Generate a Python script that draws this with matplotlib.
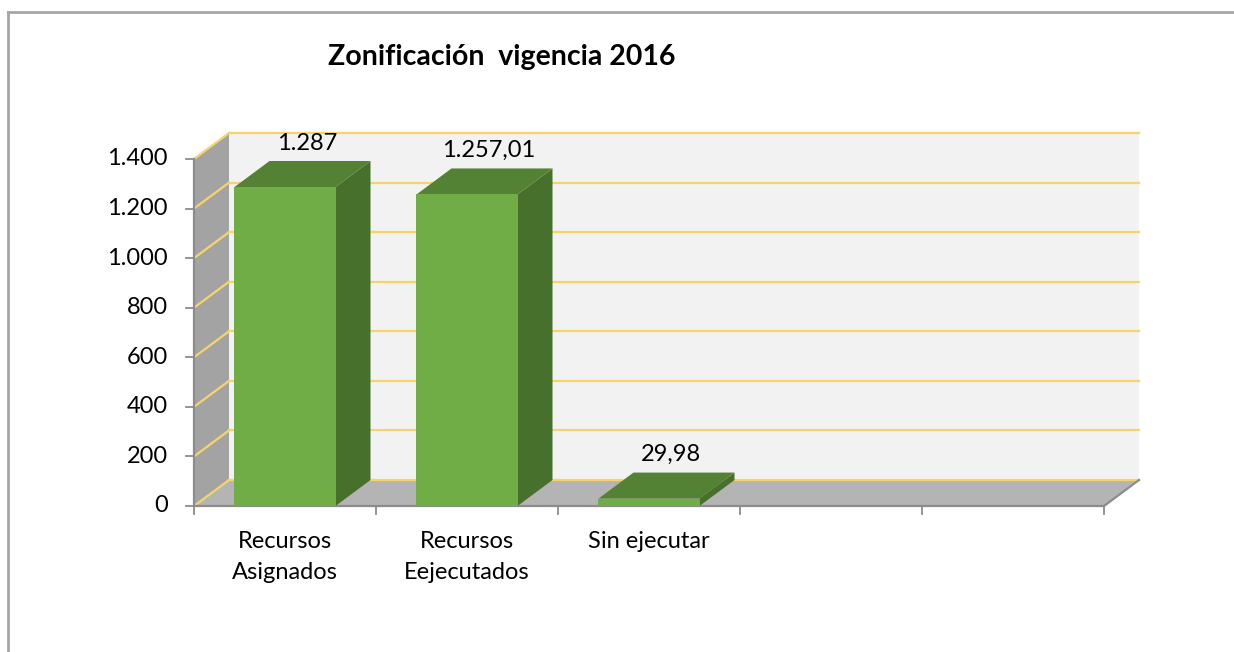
import matplotlib
matplotlib.use("Agg")
import matplotlib.pyplot as plt
from matplotlib.patches import Polygon
from matplotlib.transforms import IdentityTransform
from matplotlib.lines import Line2D

# ---- data ----
categories = ["Recursos\nAsignados", "Recursos\nEejecutados", "Sin ejecutar", "", ""]
values = [1287, 1257.01, 29.98]
value_labels = ["1.287", "1.257,01", "29,98"]
yticks = [0, 200, 400, 600, 800, 1000, 1200, 1400]
ytick_labels = ["0", "200", "400", "600", "800", "1.000", "1.200", "1.400"]
title = "Zonificación  vigencia 2016"

# ---- style ----
W, H, DPI = 1234, 652, 100
FONT = ["Lato", "DejaVu Sans"]
DX, DY = 35, 26            # depth offset in pixels (right, up)
BAR_HALF = 0.2775
C_FRONT, C_TOP, C_SIDE = "#70AD47", "#548235", "#46702B"
C_WALL, C_SIDEWALL, C_FLOOR = "#F2F2F2", "#A3A3A3", "#B4B4B4"
C_GRID, C_AXIS = "#F7D46A", "#8C8C8C"
FS = 17

fig = plt.figure(figsize=(W / DPI, H / DPI), dpi=DPI)
fig.patch.set_facecolor("white")
ax = fig.add_axes([194 / W, (H - 506) / H, (1104 - 194) / W, (506 - 159) / H])
ax.set_xlim(-0.5, len(categories) - 0.5)
ax.set_ylim(0, 1400)
ax.axis("off")

T = ax.transData
ID = IdentityTransform()


def front(x, y):
    px, py = T.transform((x, y))
    return (px, py)


def back(x, y):
    px, py = T.transform((x, y))
    return (px + DX, py + DY)


def poly(pts, color, z, lw=0, ec="none"):
    p = Polygon(pts, closed=True, facecolor=color, edgecolor=ec, lw=lw,
                transform=ID, zorder=z)
    fig.add_artist(p)


def line(p0, p1, color, z, lw=1.5):
    l = Line2D([p0[0], p1[0]], [p0[1], p1[1]], color=color, lw=lw,
               transform=ID, zorder=z)
    fig.add_artist(l)


x0, x1 = -0.5, len(categories) - 0.5
ymax = yticks[-1]

# back wall
poly([back(x0, 0), back(x1, 0), back(x1, ymax), back(x0, ymax)], C_WALL, 1)
# left side wall
poly([front(x0, 0), back(x0, 0), back(x0, ymax), front(x0, ymax)], C_SIDEWALL, 1)
# floor
poly([front(x0, 0), front(x1, 0), back(x1, 0), back(x0, 0)], C_FLOOR, 1)

# gridlines
for v in yticks:
    line(back(x0, v), back(x1, v), C_GRID, 2, lw=1.6)
    line(front(x0, v), back(x0, v), C_GRID, 2, lw=1.6)

# axes lines and ticks
line(front(x0, 0), front(x1, 0), C_AXIS, 3, lw=1.6)
line(front(x1, 0), back(x1, 0), C_AXIS, 3, lw=1.6)
line(front(x0, 0), front(x0, ymax), C_AXIS, 3, lw=1.6)
for v, lab in zip(yticks, ytick_labels):
    px, py = front(x0, v)
    line((px - 8, py), (px, py), C_AXIS, 3, lw=1.3)
    fig.text((px - 26) / W, py / H, lab, ha="right", va="center",
             fontsize=FS, family=FONT, color="black")
for i in range(len(categories) + 1):
    px, py = front(x0 + i, 0)
    line((px, py), (px, py - 8), C_AXIS, 3, lw=1.3)
for i, lab in enumerate(categories):
    if lab:
        px, py = front(i, 0)
        fig.text(px / W, (py - 25) / H, lab, ha="center", va="top",
                 fontsize=FS, family=FONT, color="black", linespacing=1.58)

# bars
for i, (v, lab) in enumerate(zip(values, value_labels)):
    l, r = i - BAR_HALF, i + BAR_HALF
    # right side face
    poly([front(r, 0), back(r, 0), back(r, v), front(r, v)], C_SIDE, 5)
    # top face
    poly([front(l, v), front(r, v), back(r, v), back(l, v)], C_TOP, 5)
    # front face
    poly([front(l, 0), front(r, 0), front(r, v), front(l, v)], C_FRONT, 6)
    fx, fy = front(i, v)
    fig.text((fx + 22) / W, (fy + DY + 18) / H, lab, ha="center", va="center",
             fontsize=FS, family=FONT, color="black", zorder=7)

# title
fig.text(502 / W, (H - 57) / H, title, ha="center", va="center",
         fontsize=20.5, fontweight="bold", family=FONT, color="black")

# chart border (top and left visible)
line((8, H - 12), (W, H - 12), "#A6A6A6", 8, lw=2)
line((8, H - 12), (8, 0), "#A6A6A6", 8, lw=2)

fig.savefig("out.png", dpi=DPI, facecolor="white")
